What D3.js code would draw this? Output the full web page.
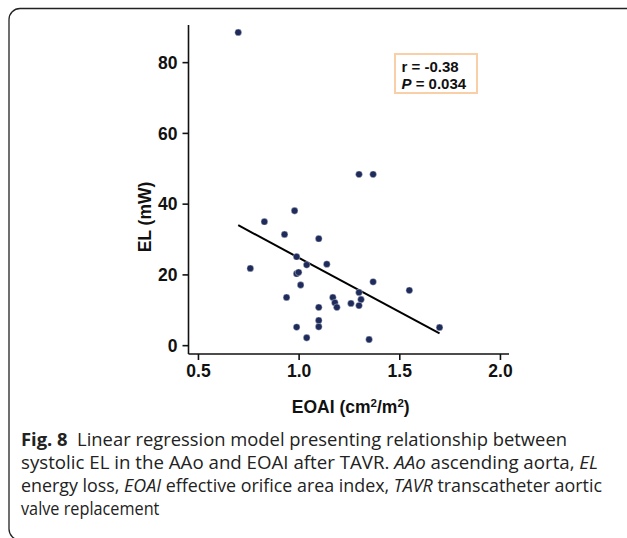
<!DOCTYPE html>
<html>
<head>
<meta charset="utf-8">
<script src="https://cdn.jsdelivr.net/npm/d3@7"></script>
<style>
  body { margin: 0; background: #fff; }
  svg { display: block; }
</style>
</head>
<body>
<svg id="chart" width="627" height="538"></svg>
<script>
// EOAI (cm2/m2) vs systolic EL (mW)
const eoai = [0.70, 1.30, 1.37, 0.98, 0.83, 0.93, 1.10, 0.99, 0.76, 1.04, 1.14,
  0.99, 1.00, 1.01, 1.37, 0.94, 1.17, 1.18, 1.19, 1.10, 1.26, 1.30, 1.31, 1.30,
  1.10, 1.10, 0.99, 1.04, 1.35, 1.55, 1.70];
const el = [88.4, 48.3, 48.3, 38.0, 34.9, 31.3, 30.1, 25.0, 21.7, 22.7, 22.9,
  20.2, 20.6, 17.0, 17.9, 13.5, 13.5, 12.0, 10.7, 10.7, 11.8, 14.9, 12.9, 11.2,
  7.0, 5.2, 5.1, 2.1, 1.6, 15.5, 5.0];

// regression line end points
const fitX = [0.70, 1.70];
const fitY = [33.9, 3.3];

const xTicks = [0.5, 1.0, 1.5, 2.0];
const yTicks = [0, 20, 40, 60, 80];
const statLines = ["r = -0.38", "P = 0.034"];

const captionLines = [
  [["Fig. 8", "b"], ["  Linear regression model presenting relationship between", ""]],
  [["systolic EL in the AAo and EOAI after TAVR. ", ""], ["AAo", "i"], [" ascending aorta, ", ""], ["EL", "i"]],
  [["energy loss, ", ""], ["EOAI", "i"], [" effective orifice area index, ", ""], ["TAVR", "i"], [" transcatheter aortic", ""]],
  [["valve replacement", ""]]
];
// how wide each caption line runs in the figure (null = natural)
const captionWidths = [546, 577, 581, null];

function draw(container) {
  const svg = d3.select(container);
  const chartFont = "'Liberation Sans', Arial, sans-serif";

  // plot frame in page pixels
  const left = 188.5, right = 509, top = 25, bottom = 354;

  const x = d3.scaleLinear().domain([0.453, 2.045]).range([left, right]);
  const y = d3.scaleLinear().domain([-2.5, 90.5]).range([bottom, top]);

  // outer figure border
  svg.append("path")
    .attr("d", "M628,8.5 H20 A11,11 0 0 0 9,19.5 V529 A11,11 0 0 0 20,540")
    .attr("fill", "none")
    .attr("stroke", "#222")
    .attr("stroke-width", 1.3);

  // axes
  const xAxis = d3.axisBottom(x).tickValues(xTicks).tickFormat(d3.format(".1f"))
    .tickSize(6).tickSizeOuter(0).tickPadding(5);
  const yAxis = d3.axisLeft(y).tickValues(yTicks).tickFormat(d3.format("d"))
    .tickSize(6).tickSizeOuter(0).tickPadding(5);

  const gx = svg.append("g")
    .attr("transform", "translate(0," + bottom + ")")
    .call(xAxis);
  gx.select(".domain").attr("d", "M" + left + ",0H" + right);

  const gy = svg.append("g")
    .attr("transform", "translate(" + left + ",0)")
    .call(yAxis);
  gy.select(".domain").attr("d", "M0," + top + "V" + bottom);

  svg.selectAll(".tick text")
    .attr("font-family", chartFont)
    .attr("font-size", 17.5)
    .attr("font-weight", "bold")
    .attr("fill", "#111");
  gy.selectAll(".tick text").attr("dy", "0.36em");
  svg.selectAll(".domain, .tick line")
    .attr("stroke", "#111")
    .attr("stroke-width", 1.6);

  // axis titles
  const xt = svg.append("text")
    .attr("x", (left + right) / 2 + 2)
    .attr("y", 412.5)
    .attr("text-anchor", "middle")
    .attr("font-family", chartFont)
    .attr("font-size", 17.5)
    .attr("font-weight", "bold")
    .attr("fill", "#111");
  xt.append("tspan").text("EOAI (cm");
  xt.append("tspan").attr("font-size", 11.5).attr("dy", -6).text("2");
  xt.append("tspan").attr("dy", 6).text("/m");
  xt.append("tspan").attr("font-size", 11.5).attr("dy", -6).text("2");
  xt.append("tspan").attr("dy", 6).text(")");

  svg.append("text")
    .attr("transform", "translate(151," + 217 + ") rotate(-90)")
    .attr("text-anchor", "middle")
    .attr("font-family", chartFont)
    .attr("font-size", 17.5)
    .attr("font-weight", "bold")
    .attr("fill", "#111")
    .text("EL (mW)");

  // regression line
  const line = d3.line()
    .x(d => x(d[0]))
    .y(d => y(d[1]));
  svg.append("path")
    .datum(d3.zip(fitX, fitY))
    .attr("d", line)
    .attr("fill", "none")
    .attr("stroke", "#000")
    .attr("stroke-width", 2);

  // points
  svg.append("g")
    .selectAll("circle")
    .data(d3.zip(eoai, el))
    .join("circle")
      .attr("cx", d => x(d[0]))
      .attr("cy", d => y(d[1]))
      .attr("r", 3.4)
      .attr("fill", "#1f2c5b")
      .attr("stroke", "#e8eaf0")
      .attr("stroke-width", 0.4);

  // stats box
  svg.append("rect")
    .attr("x", 395).attr("y", 54)
    .attr("width", 82).attr("height", 39)
    .attr("fill", "#fff")
    .attr("stroke", "#f8cfa6")
    .attr("stroke-width", 2);
  const st = svg.append("g")
    .attr("font-family", chartFont)
    .attr("font-size", 15)
    .attr("font-weight", "bold")
    .attr("fill", "#111");
  st.append("text").attr("x", 401.5).attr("y", 71.5).text(statLines[0]);
  const p = st.append("text").attr("x", 401.5).attr("y", 89);
  p.append("tspan").attr("font-style", "italic").text(statLines[1].slice(0, 1));
  p.append("tspan").text(statLines[1].slice(1));

  // caption
  const capFont = "'Open Sans', 'Noto Sans', sans-serif";
  const cap = svg.append("g")
    .attr("font-family", capFont)
    .attr("fill", "#222");
  const texts = captionLines.map((parts, i) => {
    const t = cap.append("text")
      .attr("x", 21)
      .attr("y", 446 + i * 23)
      .attr("font-size", 17.5)
      .attr("xml:space", "preserve");
    parts.forEach(pt => {
      const s = t.append("tspan").text(pt[0]);
      if (pt[1] === "b") s.attr("font-weight", "bold");
      if (pt[1] === "i") s.attr("font-style", "italic");
    });
    return t;
  });
  // the original face is narrower: squeeze each line to its span
  texts.forEach((t, i) => {
    if (captionWidths[i]) {
      t.attr("textLength", captionWidths[i]).attr("lengthAdjust", "spacingAndGlyphs");
    } else {
      t.attr("transform", "translate(21,0) scale(0.93,1) translate(-21,0)");
    }
  });
}

draw("#chart");
</script>
</body>
</html>
